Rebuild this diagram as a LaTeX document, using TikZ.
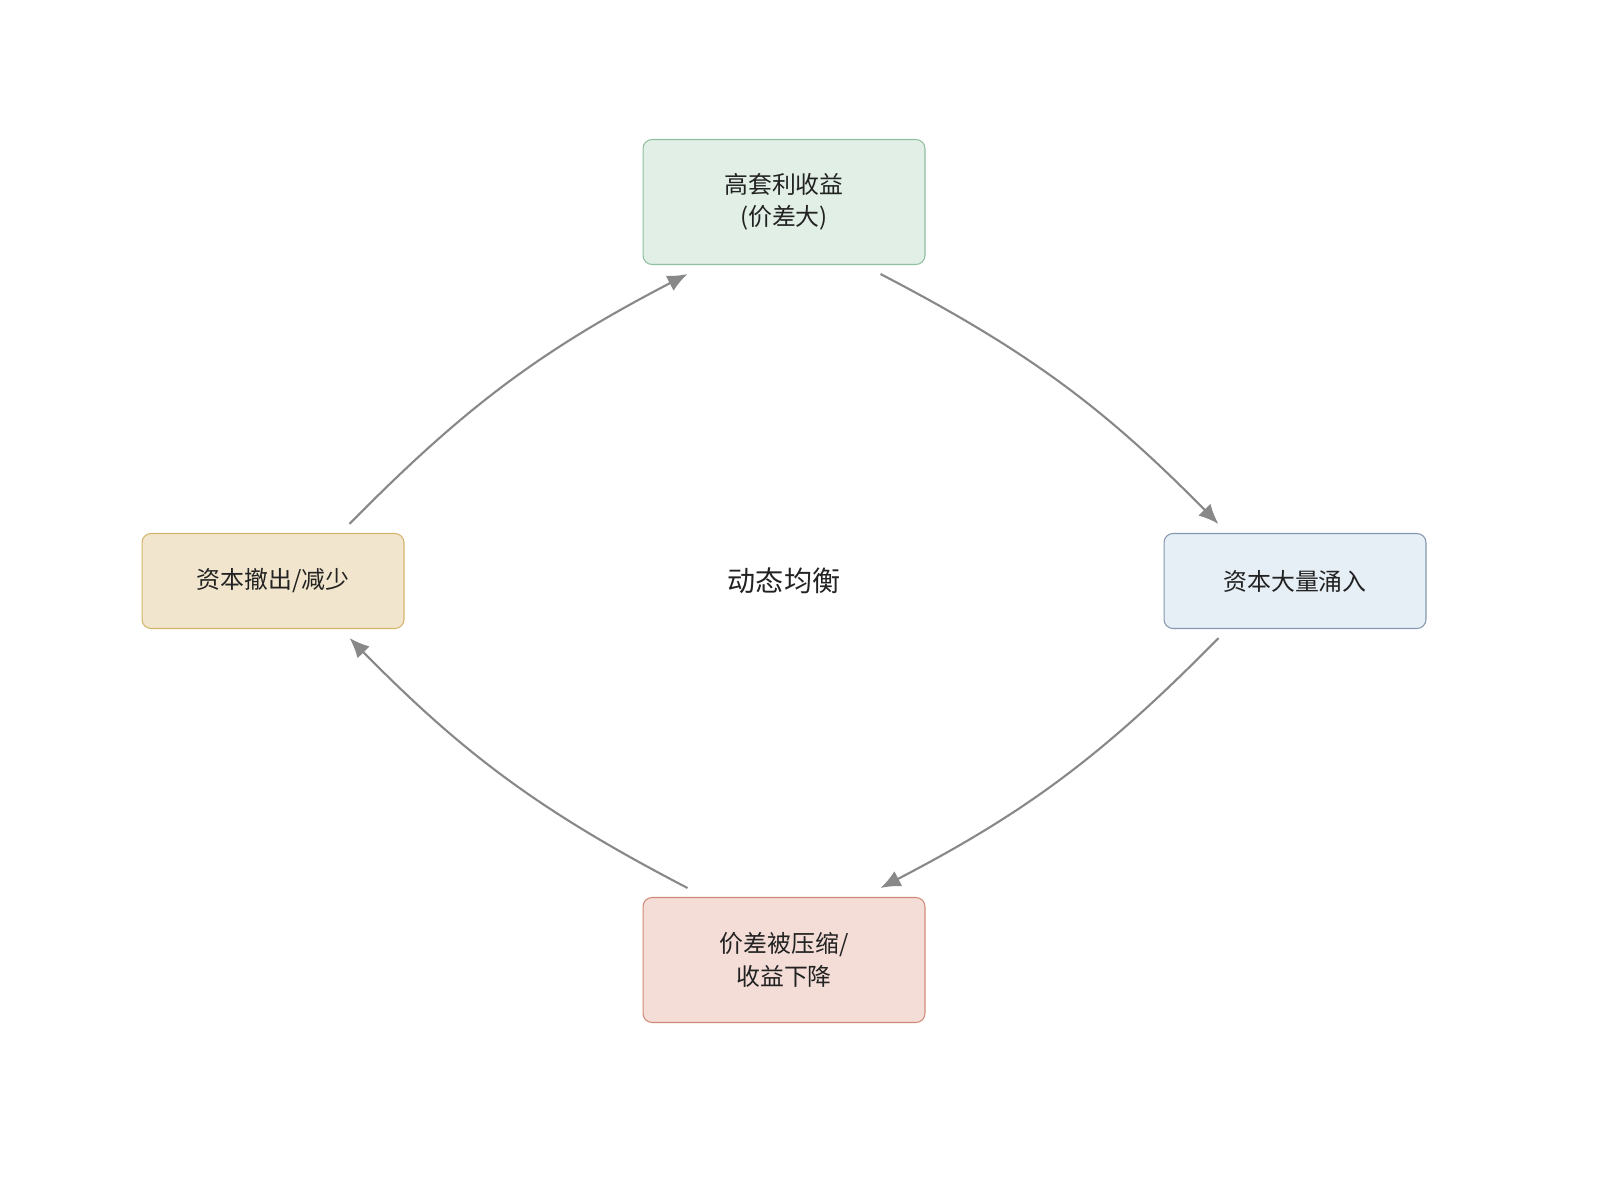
\documentclass[tikz,border=0pt]{standalone}
\usepackage{fontspec}
\newfontfamily\cjk{Noto Sans CJK SC}
\usetikzlibrary{arrows.meta}
\definecolor{gruenFill}{HTML}{E1EFE6}\definecolor{gruenRand}{HTML}{8FBF9F}
\definecolor{blauFill}{HTML}{E6EEF6}\definecolor{blauRand}{HTML}{8497AE}
\definecolor{rotFill}{HTML}{F3DDD6}\definecolor{rotRand}{HTML}{D28A78}
\definecolor{gelbFill}{HTML}{F1E6CD}\definecolor{gelbRand}{HTML}{D4B46A}
\definecolor{pfeil}{HTML}{888888}
\definecolor{schrift}{HTML}{222222}
\tikzset{
  kasten/.style={draw, rounded corners=0.18cm, line width=0.6pt, align=center,
    text=schrift, font=\cjk\fontsize{13.6}{18.5}\selectfont},
  breit/.style={kasten, minimum width=5.64cm, minimum height=2.5cm},
  schmal/.style={kasten, minimum width=5.24cm, minimum height=1.9cm},
  fluss/.style={draw=pfeil, line width=1.2pt, -{Latex[length=0.4cm,width=0.34cm]}, bend left=9}
}
\begin{document}
\begin{tikzpicture}[x=0.02cm, y=-0.02cm]
    % Rahmen
    \useasboundingbox (0,0) rectangle (1600,1187);
    % Kaesten
    \node[breit, fill=gruenFill, draw=gruenRand] (oben) at (784,202) {高套利收益\\(价差大)};
    \node[schmal, fill=blauFill, draw=blauRand] (rechts) at (1295,581) {资本大量涌入};
    \node[breit, fill=rotFill, draw=rotRand] (unten) at (784,960) {价差被压缩/\\收益下降};
    \node[schmal, fill=gelbFill, draw=gelbRand] (links) at (273,581) {资本撤出/减少};
    \node[text=schrift, font=\cjk\fontsize{16}{18}\selectfont] (mitte) at (784,581) {动态均衡};
    % Kreislauf
    \draw[fluss] ([shift={(-45,9)}]oben.south east) to ([shift={(55,-9)}]rechts.north west);
    \draw[fluss] ([shift={(55,9)}]rechts.south west) to ([shift={(-45,-9)}]unten.north east);
    \draw[fluss] ([shift={(45,-9)}]unten.north west) to ([shift={(-55,9)}]links.south east);
    \draw[fluss] ([shift={(-55,-9)}]links.north east) to ([shift={(45,9)}]oben.south west);
\end{tikzpicture}
\end{document}
